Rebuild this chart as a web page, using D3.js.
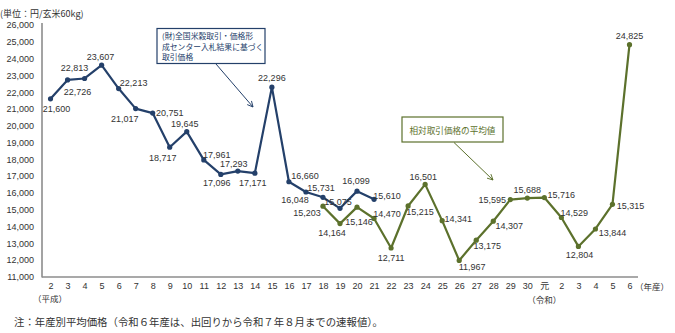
<!DOCTYPE html>
<html><head><meta charset="utf-8">
<script src="https://cdn.jsdelivr.net/npm/d3@7"></script>
<style>
body{margin:0;background:#fff;}
svg{display:block;}
</style></head>
<body>
<svg id="c" width="675" height="333"></svg>
<script>
// ---- data ----
const categories = ["H2","H3","H4","H5","H6","H7","H8","H9","H10","H11","H12","H13","H14","H15","H16","H17","H18","H19","H20","H21","H22","H23","H24","H25","H26","H27","H28","H29","H30","R1","R2","R3","R4","R5","R6"];
const tickLabels = ["2","3","4","5","6","7","8","9","10","11","12","13","14","15","16","17","18","19","20","21","22","23","24","25","26","27","28","29","30","元","2","3","4","5","6"];
const yTicks = [11000,12000,13000,14000,15000,16000,17000,18000,19000,20000,21000,22000,23000,24000,25000,26000];
const blueCategories = ["H2","H3","H4","H5","H6","H7","H8","H9","H10","H11","H12","H13","H14","H15","H16","H17","H18","H19","H20","H21"];
const blueValues = [21600,22726,22813,23607,22213,21017,20751,18717,19645,17961,17096,17293,17171,22296,16660,16048,15731,15075,16099,15610];
const greenCategories = ["H18","H19","H20","H21","H22","H23","H24","H25","H26","H27","H28","H29","H30","R1","R2","R3","R4","R5","R6"];
const greenValues = [15203,14164,15146,14470,12711,15215,16501,14341,11967,13175,14307,15595,15688,15716,14529,12804,13844,15315,24825];

// label offsets (layout only)
const blueLabelOff = [[6,10],[10,12],[-10,-10],[-1,-8],[15,-6],[-11,10],[17,0],[-7,11],[-2,-8],[13,-5],[-4,9],[-4,-7],[-2,10],[0,-9],[16,-6],[-11,8],[-2,-9],[-2,-6],[-1,-10],[13,-3]];
const greenLabelOff = [[-16,7],[-8,9],[2,15],[13,-4],[0,10],[12,6],[-2,-7],[16,-2],[13,7],[11,6],[16,5],[-18,0],[0,-8],[17,-3],[13,-4],[1,9],[17,4],[18,2],[0,-9]];

const BLUE = "#24406a", GREEN = "#5c712c", AXIS = "#8c8c8c", TXT = "#333";
const NUMFONT = "'Liberation Sans', Arial, sans-serif";
const JPFONT = "'Noto Sans CJK JP', sans-serif";

const svg = d3.select("#c");
const x = d3.scalePoint().domain(categories).range([42, 638]).padding(0.5);
const y = d3.scaleLinear().domain([11000, 26000]).range([276.7, 25]);

// axes
const yAxis = d3.axisLeft(y).tickValues(yTicks).tickSize(0).tickPadding(8).tickFormat(d3.format(","));
const gy = svg.append("g").attr("transform","translate(42,0)").call(yAxis);
gy.select(".domain").remove();
gy.selectAll("text").attr("font-family", NUMFONT).attr("font-size", 9).attr("fill", TXT);

const xAxis = d3.axisBottom(x).tickSize(0).tickPadding(6).tickFormat((d,i)=>tickLabels[i]);
const gx = svg.append("g").attr("transform","translate(0,277)").call(xAxis);
gx.select(".domain").remove();
gx.selectAll("text").attr("font-family", (d,i)=>tickLabels[i]==="元"?JPFONT:NUMFONT).attr("font-size", 9).attr("fill", TXT);

svg.append("line").attr("x1",42).attr("x2",42).attr("y1",23).attr("y2",277.5).attr("stroke",AXIS).attr("stroke-width",1.6);
svg.append("line").attr("x1",42).attr("x2",638).attr("y1",277).attr("y2",277).attr("stroke",AXIS).attr("stroke-width",1.6);

svg.append("text").attr("x",50).attr("y",302).attr("text-anchor","middle").attr("font-family",JPFONT).attr("font-size",8.5).attr("fill",TXT).text("（平成）");
svg.append("text").attr("x",x("R1")).attr("y",303).attr("text-anchor","middle").attr("font-family",JPFONT).attr("font-size",8.5).attr("fill",TXT).text("（令和）");
svg.append("text").attr("x",652).attr("y",290).attr("text-anchor","middle").attr("font-family",JPFONT).attr("font-size",8.5).attr("fill",TXT).text("（年産）");
svg.append("text").attr("x",0).attr("y",17).attr("font-family",JPFONT).attr("font-size",9).attr("fill",TXT).text("(単位：円/玄米60kg)");
svg.append("text").attr("x",14).attr("y",326).attr("font-family",JPFONT).attr("font-size",10.4).attr("fill",TXT).text("注：年産別平均価格（令和６年産は、出回りから令和７年８月までの速報値）。");

function series(cats, vals, color, offs){
  const pts = cats.map((c,i)=>({c, v: vals[i], o: offs[i]}));
  svg.append("path").datum(pts)
    .attr("fill","none").attr("stroke",color).attr("stroke-width",2.2).attr("stroke-linejoin","round")
    .attr("d", d3.line().x(d=>x(d.c)).y(d=>y(d.v)));
  svg.append("g").selectAll("circle").data(pts).join("circle")
    .attr("cx",d=>x(d.c)).attr("cy",d=>y(d.v)).attr("r",2.6).attr("fill",color);
  svg.append("g").selectAll("text").data(pts).join("text")
    .attr("x",d=>x(d.c)+d.o[0]).attr("y",d=>y(d.v)+d.o[1])
    .attr("text-anchor","middle").attr("dominant-baseline","central")
    .attr("font-family",NUMFONT).attr("font-size",9).attr("fill",TXT)
    .text(d=>d3.format(",")(d.v));
}
series(blueCategories, blueValues, BLUE, blueLabelOff);
series(greenCategories, greenValues, GREEN, greenLabelOff);

// annotation boxes
const defs = svg.append("defs");
function marker(id,color){
  defs.append("marker").attr("id",id).attr("viewBox","0 0 10 10").attr("refX",9).attr("refY",5)
    .attr("markerWidth",7).attr("markerHeight",7).attr("orient","auto")
    .append("path").attr("d","M1,1 L9,5 L1,9").attr("fill","none").attr("stroke",color).attr("stroke-width",1.3);
}
marker("ab",BLUE); marker("ag",GREEN);

svg.append("rect").attr("x",157).attr("y",28.5).attr("width",108).attr("height",35).attr("fill","#fff").attr("stroke",BLUE).attr("stroke-width",1.2);
["(財)全国米穀取引・価格形","成センター入札結果に基づく","取引価格"].forEach((t,i)=>{
  svg.append("text").attr("x",162).attr("y",35.5+i*10.6).attr("dominant-baseline","central")
    .attr("font-family",JPFONT).attr("font-size",7.8).attr("fill",BLUE).text(t);
});
svg.append("line").attr("x1",216).attr("y1",64).attr("x2",253).attr("y2",107).attr("stroke",BLUE).attr("stroke-width",1).attr("marker-end","url(#ab)");

svg.append("rect").attr("x",402).attr("y",117).attr("width",101).attr("height",25).attr("fill","#fff").attr("stroke",GREEN).attr("stroke-width",1.2);
svg.append("text").attr("x",452.5).attr("y",129.5).attr("text-anchor","middle").attr("dominant-baseline","central")
  .attr("font-family",JPFONT).attr("font-size",8.6).attr("fill",GREEN).text("相対取引価格の平均値");
svg.append("line").attr("x1",454).attr("y1",142.5).attr("x2",493).attr("y2",180).attr("stroke",GREEN).attr("stroke-width",1).attr("marker-end","url(#ag)");
</script>
</body></html>
